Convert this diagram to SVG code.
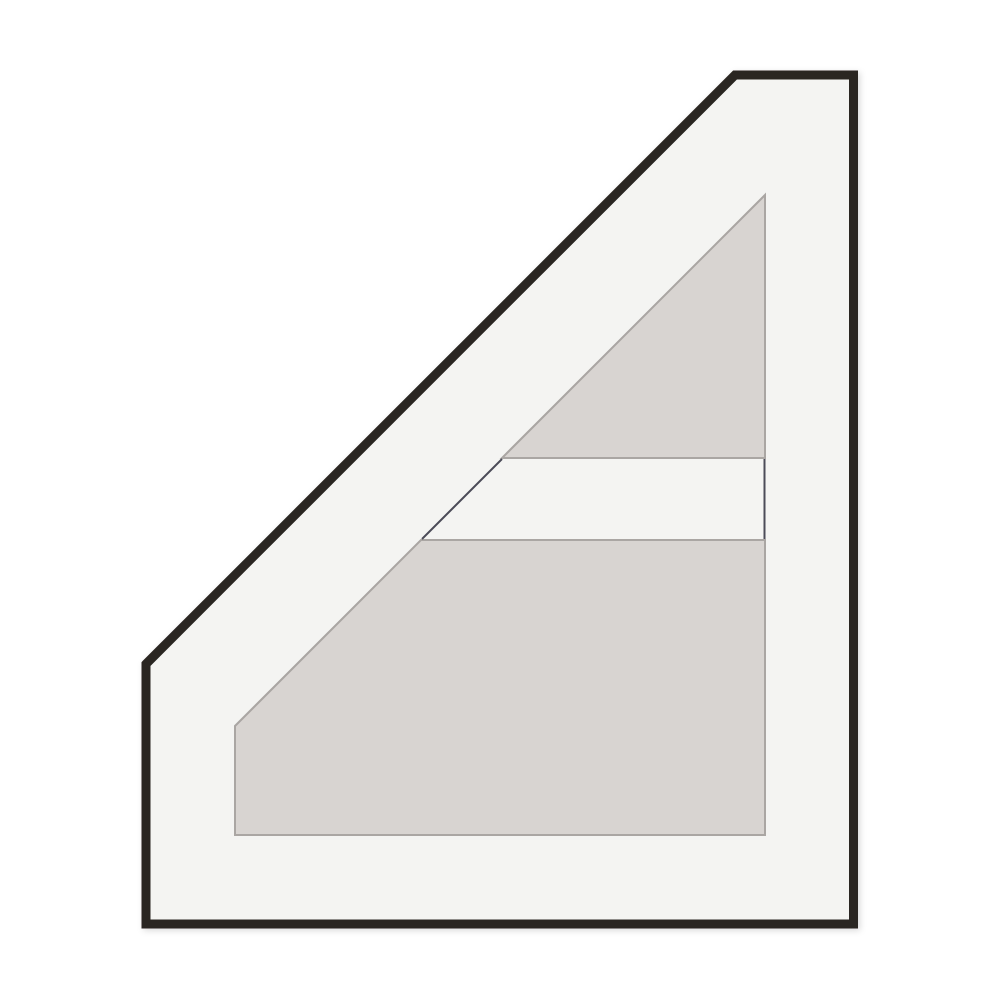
<svg xmlns="http://www.w3.org/2000/svg" width="1000" height="1000" viewBox="0 0 1000 1000">
<defs>
<filter id="sh" x="-5%" y="-5%" width="110%" height="110%">
<feDropShadow dx="2" dy="2" stdDeviation="3" flood-color="#000" flood-opacity="0.15"/>
</filter>
<style>
.frame{fill:#f4f4f2;stroke:#2a2723;stroke-width:9;stroke-linejoin:miter}
.pane{fill:#d8d4d1;stroke:#aaa6a3;stroke-width:2}
.edge{stroke:#4c4c58;stroke-width:2;fill:none}
</style>
</defs>
<rect width="1000" height="1000" fill="#ffffff"/>
<g id="frame">
<polygon class="frame" filter="url(#sh)" points="146,664 735,75 853.5,75 853.5,924 146,924"/>
</g>
<g id="upper-pane">
<polygon class="pane" points="765,195 765,458 502,458"/>
</g>
<g id="lower-pane">
<polygon class="pane" points="421,540 765,540 765,835 235,835 235,726"/>
</g>
<g id="bar">
<line class="edge" x1="502" y1="459" x2="422" y2="539"/>
<line class="edge" x1="764.5" y1="459" x2="764.5" y2="539"/>
</g>
</svg>
